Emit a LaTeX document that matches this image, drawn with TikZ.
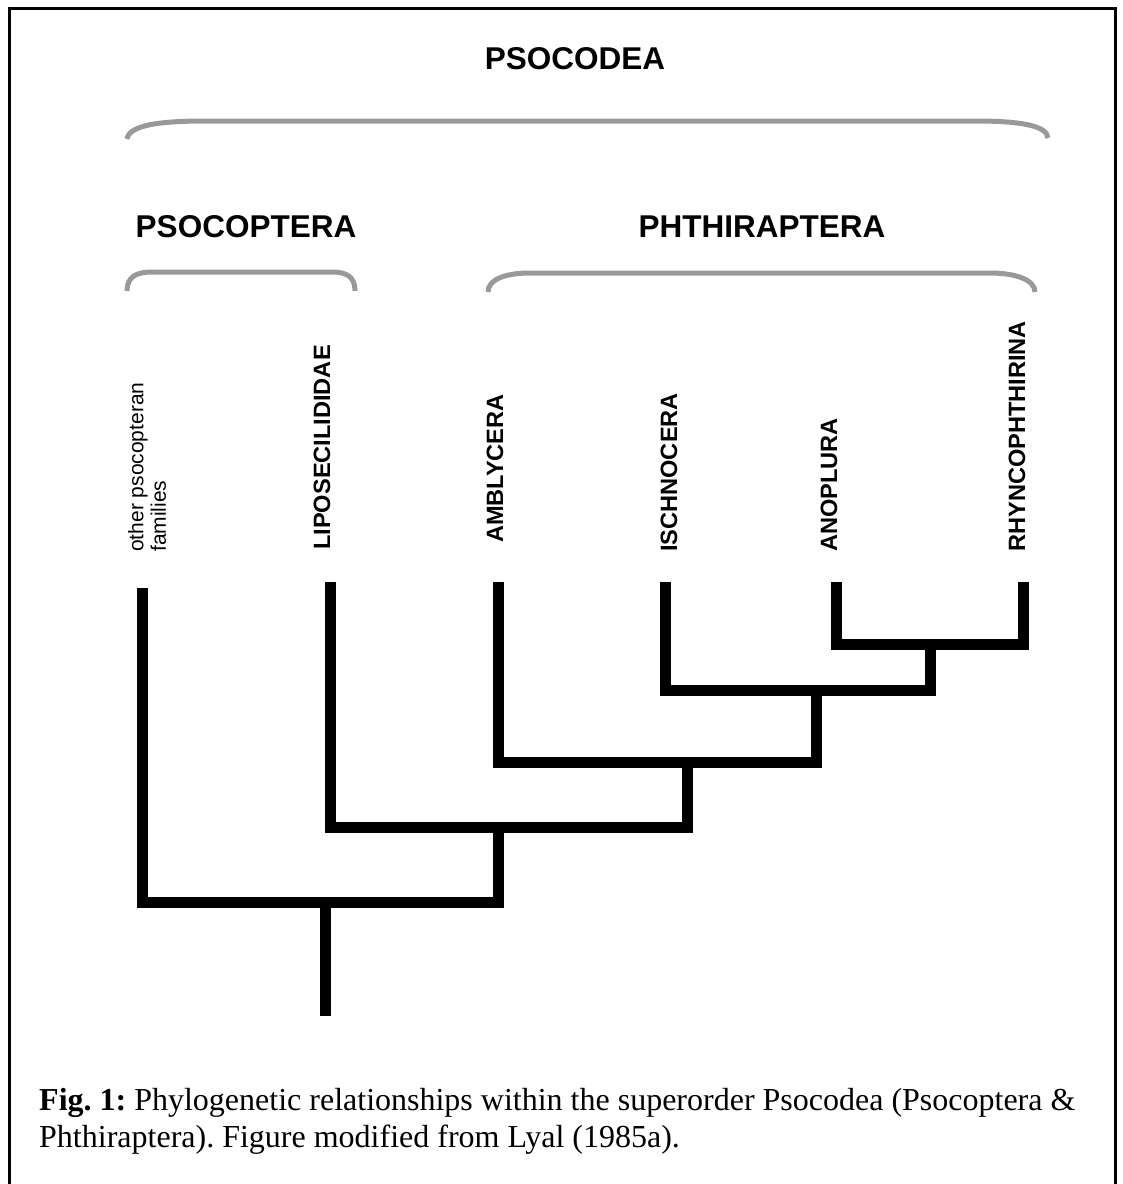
\documentclass[tikz,border=0pt]{standalone}
\usepackage{fontspec}
\setmainfont{Liberation Serif}
\newfontfamily\arialf{Liberation Sans}
\definecolor{bracegray}{RGB}{153,153,153}
\frenchspacing
\tikzset{
  branch/.style={line width=11pt, line join=miter, line cap=butt},
  bracket/.style={line width=5pt, draw=bracegray, line cap=butt},
  frameline/.style={line width=3pt, line join=miter},
  grouplabel/.style={font=\arialf\bfseries\fontsize{31.5}{36}\selectfont, inner sep=0pt, anchor=base},
  taxon/.style={font=\arialf\bfseries\fontsize{23.6}{27}\selectfont, inner sep=0pt, rotate=90, anchor=base west},
}
\begin{document}
\begin{tikzpicture}[x=1pt,y=-1pt]
\useasboundingbox (0,0) rectangle (1123,1184);
% frame (open at the bottom)
\draw[frameline] (9,1184) -- (9,8) -- (1115.5,8) -- (1115.5,1184);

% group labels
\node[grouplabel] (psocodea) at (575,69) {PSOCODEA};
\node[grouplabel] (psocoptera) at (246,237) {PSOCOPTERA};
\node[grouplabel] (phthiraptera) at (762,237) {PHTHIRAPTERA};

% brackets
\draw[bracket] (127,139) .. controls (129,125) and (160,121) .. (205,121) -- (975,121) .. controls (1018,121) and (1047,125) .. (1048,138);
\draw[bracket] (127,291) .. controls (127,277) and (136,272) .. (152,272) -- (332,272) .. controls (347,272) and (355,277) .. (355,291);
\draw[bracket] (488,292) .. controls (488,280) and (504,273) .. (530,273) -- (990,273) .. controls (1016,273) and (1035,280) .. (1035,292);

% taxa
\node[rotate=90, anchor=north west, inner sep=0pt, align=left, font=\arialf\fontsize{21}{22.5}\selectfont] (other) at (128,552) {other psocopteran\\families};
\node[taxon] (lipo) at (330,550) {LIPOSECILIDIDAE};
\node[taxon] (ambly) at (503,543) {AMBLYCERA};
\node[taxon] (ischno) at (677,552) {ISCHNOCERA};
\node[taxon] (anop) at (837,552) {ANOPLURA};
\node[taxon] (rhyn) at (1025,552) {RHYNCOPHTHIRINA};

% tree coordinates
\coordinate (l1) at (142,588);
\coordinate (l2) at (330,582);
\coordinate (l3) at (498,582);
\coordinate (l4) at (665,582);
\coordinate (l5) at (836,582);
\coordinate (l6) at (1023,582);
\coordinate (root) at (325,1016);
\coordinate (A) at (325,902);
\coordinate (B) at (498,827);
\coordinate (C) at (687,762);
\coordinate (D) at (816,690);
\coordinate (E) at (930,644);

% tree
\draw[branch] (root) -- (A);
\draw[branch] (l1) |- (A) -| (B);
\draw[branch] (l2) |- (B) -| (C);
\draw[branch] (l3) |- (C) -| (D);
\draw[branch] (l4) |- (D) -| (E);
\draw[branch] (l5) |- (E) -| (l6);

% caption
\node[anchor=north west, inner sep=0pt, align=left, font=\fontsize{32}{37.5}\selectfont] (caption) at (39,1088)
  {\textbf{Fig. 1:} Phylogenetic relationships within the superorder Psocodea (Psocoptera \&\\Phthiraptera). Figure modified from Lyal (1985a).};
\end{tikzpicture}
\end{document}
